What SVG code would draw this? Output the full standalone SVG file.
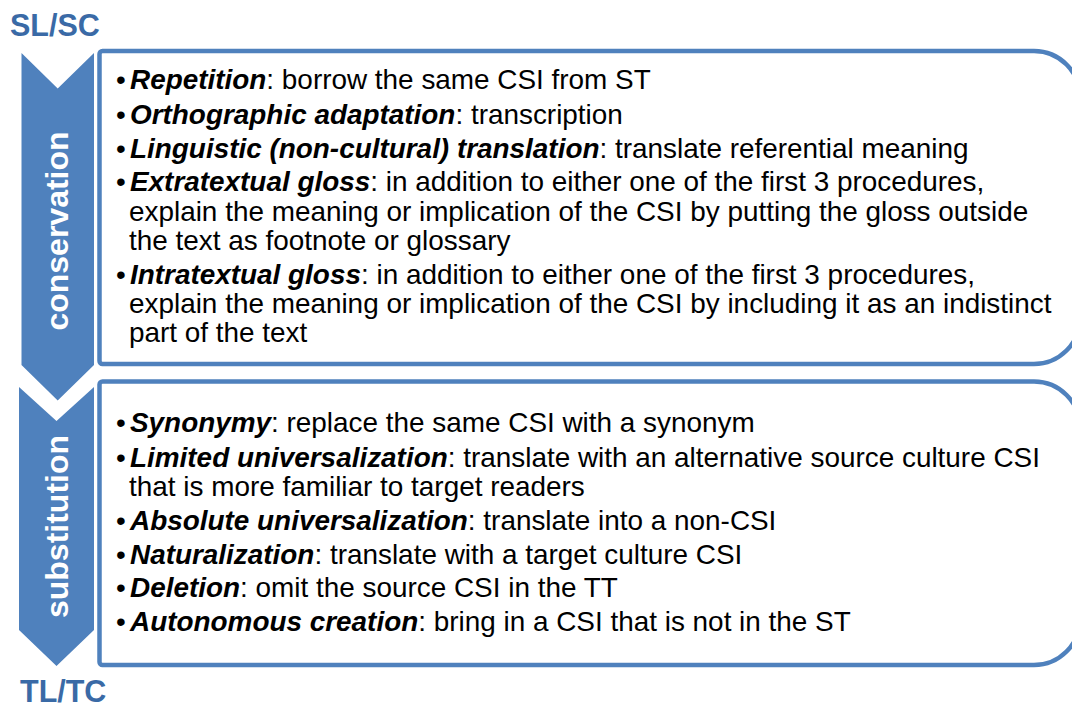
<svg xmlns="http://www.w3.org/2000/svg" width="1072" height="706" viewBox="0 0 1072 706">
  <style>
    .end { font-family: "Liberation Sans", Arial, sans-serif; font-weight: bold; font-size: 30.5px; fill: #3A6AA6; }
    .stage { fill: #4F81BD; }
    .stage-label { font-family: "Liberation Sans", Arial, sans-serif; font-weight: bold; font-size: 32px; fill: #FFFFFF; text-anchor: middle; }
    .panel { fill: #FFFFFF; stroke: #4F81BD; stroke-width: 4.5; }
    .body { font-family: "Liberation Sans", Arial, sans-serif; font-size: 27.9px; fill: #000000; }
    .term { font-weight: bold; font-style: italic; }
  </style>

  <rect width="1072" height="706" fill="#FFFFFF"/>

  <!-- start / end labels -->
  <g id="label-source">
    <text class="end" x="10" y="36">SL/SC</text>
  </g>
  <g id="label-target">
    <text class="end" x="20" y="702">TL/TC</text>
  </g>

  <!-- stage chevrons -->
  <g id="stage-conservation">
    <polygon class="stage" points="21.5,53 57.7,88.5 94,53 94,365 57.7,400.5 21.5,365"/>
    <text class="stage-label" transform="translate(68,231) rotate(-90)">conservation</text>
  </g>
  <g id="stage-substitution">
    <polygon class="stage" points="19,387 56.5,421 94,387 94,630 56.5,666 19,630"/>
    <text class="stage-label" transform="translate(68,526.5) rotate(-90)">substitution</text>
  </g>

  <!-- conservation procedures -->
  <g id="panel-conservation">
    <path class="panel" d="M 102.5 51 H 1034 A 46 46 0 0 1 1080 97 V 318 A 46 46 0 0 1 1034 364 H 102.5 A 3 3 0 0 1 99.5 361 V 54 A 3 3 0 0 1 102.5 51 Z"/>
    <g class="body">
      <text x="116" y="89">•</text>
      <text x="130" y="89"><tspan class="term">Repetition</tspan>: borrow the same CSI from ST</text>
      <text x="116" y="123.5">•</text>
      <text x="130" y="123.5"><tspan class="term">Orthographic adaptation</tspan>: transcription</text>
      <text x="116" y="157.5">•</text>
      <text x="130" y="157.5"><tspan class="term">Linguistic (non-cultural) translation</tspan>: translate referential meaning</text>
      <text x="116" y="191">•</text>
      <text x="130" y="191"><tspan class="term">Extratextual gloss</tspan>: in addition to either one of the first 3 procedures,</text>
      <text x="129" y="220.5">explain the meaning or implication of the CSI by putting the gloss outside</text>
      <text x="129" y="249.5">the text as footnote or glossary</text>
      <text x="116" y="283.5">•</text>
      <text x="130" y="283.5"><tspan class="term">Intratextual gloss</tspan>: in addition to either one of the first 3 procedures,</text>
      <text x="129" y="312.5">explain the meaning or implication of the CSI by including it as an indistinct</text>
      <text x="129" y="341.5">part of the text</text>
    </g>
  </g>

  <!-- substitution procedures -->
  <g id="panel-substitution">
    <path class="panel" d="M 102.5 381.5 H 1034 A 46 46 0 0 1 1080 427.5 V 619 A 46 46 0 0 1 1034 665 H 102.5 A 3 3 0 0 1 99.5 662 V 384.5 A 3 3 0 0 1 102.5 381.5 Z"/>
    <g class="body">
      <text x="116" y="432">•</text>
      <text x="130" y="432"><tspan class="term">Synonymy</tspan>: replace the same CSI with a synonym</text>
      <text x="116" y="466.5">•</text>
      <text x="130" y="466.5"><tspan class="term">Limited universalization</tspan>: translate with an alternative source culture CSI</text>
      <text x="129" y="495.5">that is more familiar to target readers</text>
      <text x="116" y="529.5">•</text>
      <text x="130" y="529.5"><tspan class="term">Absolute universalization</tspan>: translate into a non-CSI</text>
      <text x="116" y="563.5">•</text>
      <text x="130" y="563.5"><tspan class="term">Naturalization</tspan>: translate with a target culture CSI</text>
      <text x="116" y="597">•</text>
      <text x="130" y="597"><tspan class="term">Deletion</tspan>: omit the source CSI in the TT</text>
      <text x="116" y="630.5">•</text>
      <text x="130" y="630.5"><tspan class="term">Autonomous creation</tspan>: bring in a CSI that is not in the ST</text>
    </g>
  </g>

  <!-- no connectors: stages are linked by their chevron shapes -->
  <g id="connectors"/>
</svg>
